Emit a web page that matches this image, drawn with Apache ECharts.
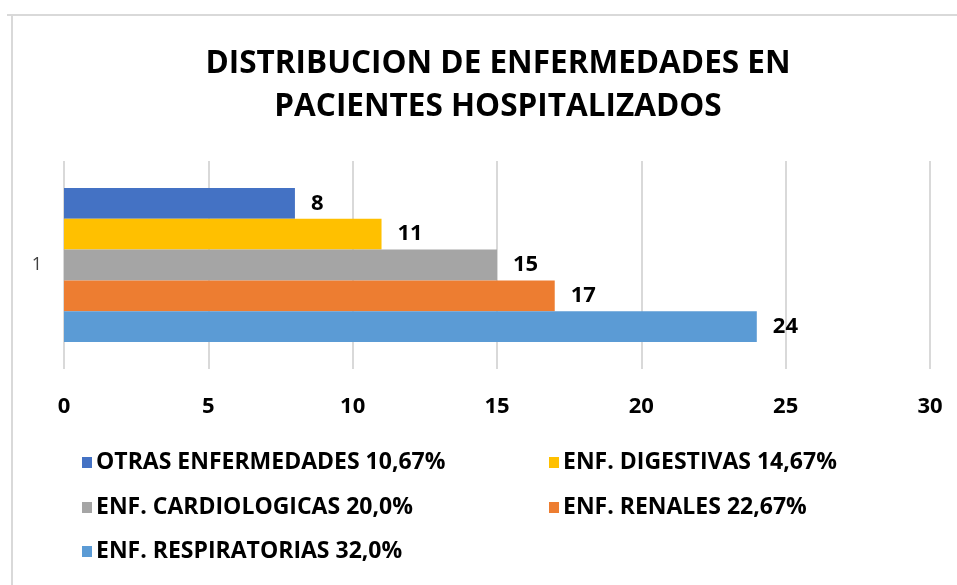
<!DOCTYPE html>
<html>
<head>
<meta charset="UTF-8">
<title>Distribucion de enfermedades</title>
<style>
  html, body { margin: 0; padding: 0; background: #fff; }
  #container { width: 957px; height: 585px; }
</style>
</head>
<body>
<div id="container"></div>
<script src="https://cdn.jsdelivr.net/npm/echarts@6/dist/echarts.min.js"></script>
<script>
// datos del grafico
var categories = ['1'];
var seriesNames = ['OTRAS ENFERMEDADES 10,67%', 'ENF. DIGESTIVAS 14,67%', 'ENF. CARDIOLOGICAS 20,0%', 'ENF. RENALES 22,67%', 'ENF. RESPIRATORIAS 32,0%'];
var seriesValues = [8, 11, 15, 17, 24];
var seriesColors = ['#4472C4', '#FFC000', '#A5A5A5', '#ED7D31', '#5B9BD5'];

var fontTxt = '"Open Sans", sans-serif';
var myChart = echarts.init(document.getElementById('container'));

var series = [];
for (var i = 0; i < seriesNames.length; i++) {
  series.push({
    name: seriesNames[i],
    type: 'bar',
    data: [seriesValues[i]],
    itemStyle: { color: seriesColors[i] },
    barGap: '0%',
    barCategoryGap: '26%',
    label: {
      show: true,
      position: 'right',
      distance: 16,
      color: '#000',
      fontWeight: 'bold',
      fontSize: 22,
      fontFamily: fontTxt
    }
  });
}

// leyenda en dos columnas
var legendPos = [[77, 446], [544, 446], [77, 491], [544, 491], [77, 535]];
var legends = [];
for (var j = 0; j < seriesNames.length; j++) {
  legends.push({
    left: legendPos[j][0],
    top: legendPos[j][1],
    data: [seriesNames[j]],
    icon: 'rect',
    itemWidth: 10,
    itemHeight: 11,
    itemGap: 0,
    selectedMode: false,
    textStyle: { color: '#000', fontWeight: 'bold', fontSize: 23, padding: [0, 0, 0, -1], fontFamily: fontTxt }
  });
}

var option = {
  animation: false,
  title: {
    text: 'DISTRIBUCION DE ENFERMEDADES EN\nPACIENTES HOSPITALIZADOS',
    left: 493,
    top: 38,
    textAlign: 'center',
    textStyle: { color: '#000', fontWeight: 'bold', fontSize: 31.5, lineHeight: 43, fontFamily: fontTxt }
  },
  graphic: [
    { type: 'line', shape: { x1: 7, y1: 15, x2: 957, y2: 15 }, style: { stroke: '#D9D9D9', lineWidth: 2 } },
    { type: 'line', shape: { x1: 12, y1: 15, x2: 12, y2: 585 }, style: { stroke: '#D9D9D9', lineWidth: 2 } }
  ],
  legend: legends,
  grid: { left: 64, right: 27, top: 161, height: 208, containLabel: false },
  xAxis: {
    type: 'value',
    min: 0,
    max: 30,
    interval: 5,
    axisLine: { show: false },
    axisTick: { show: false },
    splitLine: { lineStyle: { color: '#D9D9D9', width: 2 } },
    axisLabel: { margin: 27, color: '#000', fontWeight: 'bold', fontSize: 22, fontFamily: fontTxt }
  },
  yAxis: {
    type: 'category',
    data: categories,
    axisLine: { show: false },
    axisTick: { show: false },
    axisLabel: { margin: 22, color: '#404040', fontSize: 18, fontFamily: fontTxt }
  },
  series: series
};
myChart.setOption(option);
</script>
</body>
</html>
